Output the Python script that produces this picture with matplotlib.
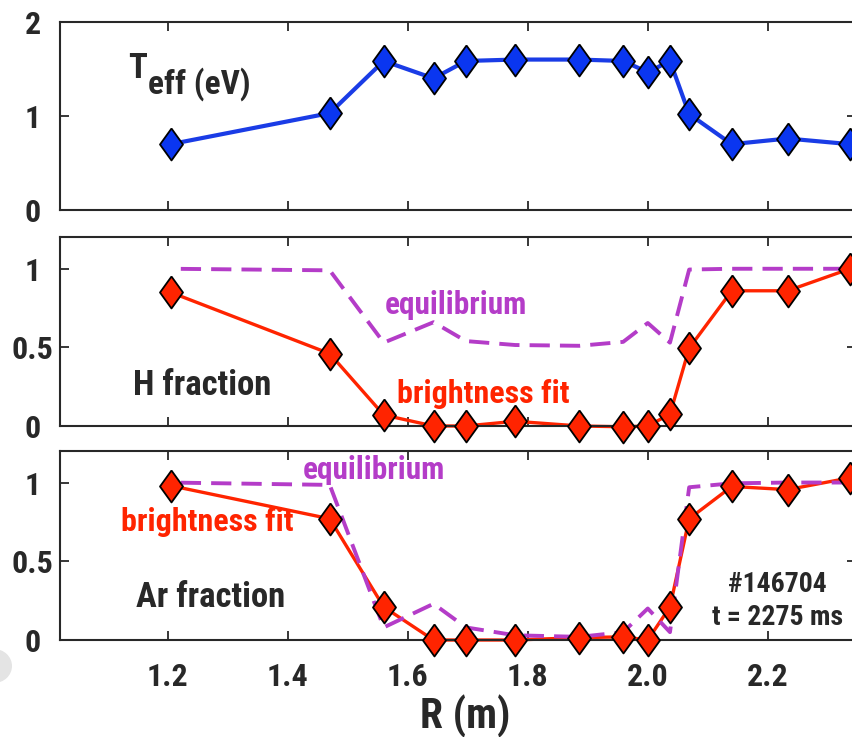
import numpy as np
import matplotlib.pyplot as plt
from matplotlib.patches import Ellipse

plt.rcParams['font.family'] = ['Roboto Condensed', 'Liberation Sans Narrow', 'Liberation Sans']
plt.rcParams['font.weight'] = 'bold'

# major radius of each chord (m)
R = [1.205, 1.47, 1.56, 1.643, 1.697, 1.779, 1.886, 1.959, 2.0, 2.037, 2.069, 2.14, 2.233, 2.337]

# effective temperature (eV)
t_eff = [0.70, 1.03, 1.585, 1.40, 1.585, 1.60, 1.60, 1.585, 1.465, 1.585, 1.02, 0.70, 0.76, 0.70]

# hydrogen fraction: brightness fit and equilibrium
h_fit = [0.85, 0.46, 0.07, 0.0, 0.0, 0.03, 0.0, -0.005, 0.0, 0.075, 0.495, 0.86, 0.86, 1.0]
h_equil = [1.0, 0.99, 0.53, 0.66, 0.54, 0.515, 0.51, 0.535, 0.655, 0.53, 0.995, 1.0, 1.0, 1.0]

# argon fraction: brightness fit and equilibrium
ar_fit = [0.98, 0.77, 0.21, 0.0, 0.0, 0.0, 0.015, 0.02, 0.0, 0.21, 0.77, 0.975, 0.955, 1.03]
ar_equil = [1.0, 0.985, 0.08, 0.23, 0.08, 0.03, 0.02, 0.05, 0.2, 0.05, 0.97, 0.995, 1.0, 1.0]

x_ticks = [1.2, 1.4, 1.6, 1.8, 2.0, 2.2]
x_ticklabels = ['1.2', '1.4', '1.6', '1.8', '2.0', '2.2']

BLUE_FACE = '#0a36f0'
BLUE_LINE = '#1a3ce6'
RED = '#ff2400'
PURPLE = '#b43cc8'
DARK = '#282828'

diamond = [(0, 1), (0.72, 0), (0, -1), (-0.72, 0), (0, 1)]
dash_style = (5.2, (5.2, 2.6))

fig = plt.figure(figsize=(8.52, 7.37), dpi=100)
left, width = 0.0704, 0.9343
ax_t = fig.add_axes([left, 0.7151, width, 0.2551])
ax_h = fig.add_axes([left, 0.4220, width, 0.2560])
ax_a = fig.add_axes([left, 0.1316, width, 0.2564])

for ax in (ax_t, ax_h, ax_a):
    ax.set_xlim(1.0205, 2.347)
    ax.set_xticks(x_ticks)
    ax.tick_params(direction='in', length=6.5, width=1.3, top=True, right=True,
                   labelsize=23, colors=DARK, pad=16)
    ax.tick_params(axis='y', pad=19.5)
    for sp in ax.spines.values():
        sp.set_linewidth(1.5)
        sp.set_color(DARK)

ax_t.set_ylim(0, 2)
ax_t.set_yticks([0, 1, 2])
for ax in (ax_h, ax_a):
    ax.set_ylim(0, 1.2)
    ax.set_yticks([0, 0.5, 1])
    ax.set_yticklabels(['0', '0.5', '1'])
ax_t.set_yticklabels(['0', '1', '2'])
for ax in (ax_t, ax_h, ax_a):
    plt.setp(ax.get_yticklabels(), ha='center')
ax_t.set_xticklabels([])
ax_h.set_xticklabels([])
ax_a.set_xticklabels(x_ticklabels)

# Teff panel
ax_t.plot(R, t_eff, color=BLUE_LINE, lw=3, marker=diamond, ms=23,
          mfc=BLUE_FACE, mec='black', mew=1.3, clip_on=False)
t_lbl = ax_t.text(1.134, 1.404, 'T', fontsize=25, color=DARK, va='baseline')
ax_t.annotate('eff (eV)', xy=(1, 0), xycoords=t_lbl, xytext=(1, -6.3),
              textcoords='offset points', fontsize=24, color=DARK, va='baseline')

# H fraction panel
ax_h.plot(R, h_fit, color=RED, lw=2.4, zorder=2, clip_on=False)
ax_h.plot(R, h_equil, color=PURPLE, lw=2.8, linestyle=dash_style, zorder=3)
ax_h.plot(R, h_fit, linestyle='none', marker=diamond, ms=23, mfc=RED,
          mec='black', mew=1.3, zorder=4, clip_on=False)
ax_h.text(1.562, 0.713, 'equilibrium', fontsize=22.5, color=PURPLE, va='baseline')
ax_h.text(1.582, 0.145, 'brightness fit', fontsize=23, color=RED, va='baseline')
ax_h.text(1.142, 0.197, 'H fraction', fontsize=25, color=DARK, va='baseline')

# Ar fraction panel
ax_a.plot(R, ar_fit, color=RED, lw=2.4, zorder=2, clip_on=False)
ax_a.plot(R, ar_equil, color=PURPLE, lw=2.8, linestyle=dash_style, zorder=3)
ax_a.plot(R, ar_fit, linestyle='none', marker=diamond, ms=23, mfc=RED,
          mec='black', mew=1.3, zorder=4, clip_on=False)
ax_a.text(1.4255, 1.02, 'equilibrium', fontsize=22.5, color=PURPLE, va='baseline')
ax_a.text(1.123, 0.695, 'brightness fit', fontsize=23, color=RED, va='baseline')
ax_a.text(1.148, 0.212, 'Ar fraction', fontsize=25, color=DARK, va='baseline')
ax_a.text(2.2155, 0.307, '#146704', fontsize=20, color=DARK, ha='center', va='baseline')
ax_a.text(2.2155, 0.095, 't = 2275 ms', fontsize=20, color=DARK, ha='center', va='baseline')

fig.text(465 / 852, 1 - 728 / 737, 'R (m)', fontsize=30, color=DARK,
         ha='center', va='baseline')

# faint grey blot at the lower left corner
fig.patches.append(Ellipse((-6 / 852, 1 - 666 / 737), width=36 / 852, height=34 / 737,
                           transform=fig.transFigure, facecolor='#e4e4e4',
                           edgecolor='none', zorder=0))

fig.savefig('out.png', dpi=100)
